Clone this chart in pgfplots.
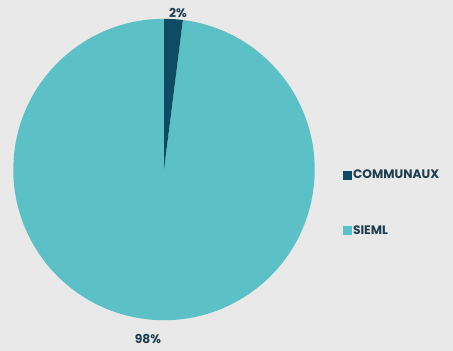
\documentclass[border=0pt]{standalone}
\usepackage{pgfplots}
\pgfplotsset{compat=1.18}
\usepackage{pgfplotstable}
\usepackage{fontspec}
\setmainfont{Poppins}
\definecolor{bg}{HTML}{E9E9E9}
\definecolor{lightteal}{HTML}{5CC1C6}
\definecolor{darkteal}{HTML}{0E4C63}
\definecolor{txt}{HTML}{1F3D4E}
\pgfplotstableread{
label value
COMMUNAUX 2
SIEML 98
}\piedata
\begin{document}
\begin{tikzpicture}
\pgfplotstablegetelem{0}{value}\of\piedata \let\va\pgfplotsretval
\pgfplotstablegetelem{1}{value}\of\piedata \let\vb\pgfplotsretval
\pgfmathsetmacro{\aa}{90-3.6*\va}
\pgfmathsetmacro{\ab}{\aa-3.6*\vb}
\begin{axis}[
  scale only axis, width=453pt, height=351pt,
  xmin=0, xmax=453, ymin=0, ymax=351,
  hide axis, clip=false,
  legend style={at={(0.757,0.4217)}, anchor=west, draw=none, fill=none,
    font=\bfseries\fontsize{12.3}{14}\selectfont, text=txt,
    row sep=41pt, inner sep=0pt},
  legend cell align=left,
  legend image code/.code={\fill[#1] (0pt,-3.5pt) rectangle (7.5pt,4pt);},
]
\fill[bg] (axis cs:0,0) rectangle (axis cs:453,351);
\addlegendimage{darkteal, fill=darkteal}
\addlegendentry{COMMUNAUX}
\addlegendimage{lightteal, fill=lightteal}
\addlegendentry{SIEML}
\fill[lightteal] (axis cs:164,181.5) -- ++(\aa:150.7pt) arc[start angle=\aa, end angle=\ab, radius=150.7pt] -- cycle;
\fill[darkteal] (axis cs:164,181.5) -- ++(90:150.7pt) arc[start angle=90, end angle=\aa, radius=150.7pt] -- cycle;
\node[font=\bfseries\fontsize{12.3}{14}\selectfont, text=txt] at (axis cs:178,338.5) {\va\%};
\node[font=\bfseries\fontsize{12.3}{14}\selectfont, text=txt] at (axis cs:148,12.5) {\vb\%};
\end{axis}
\end{tikzpicture}
\end{document}
